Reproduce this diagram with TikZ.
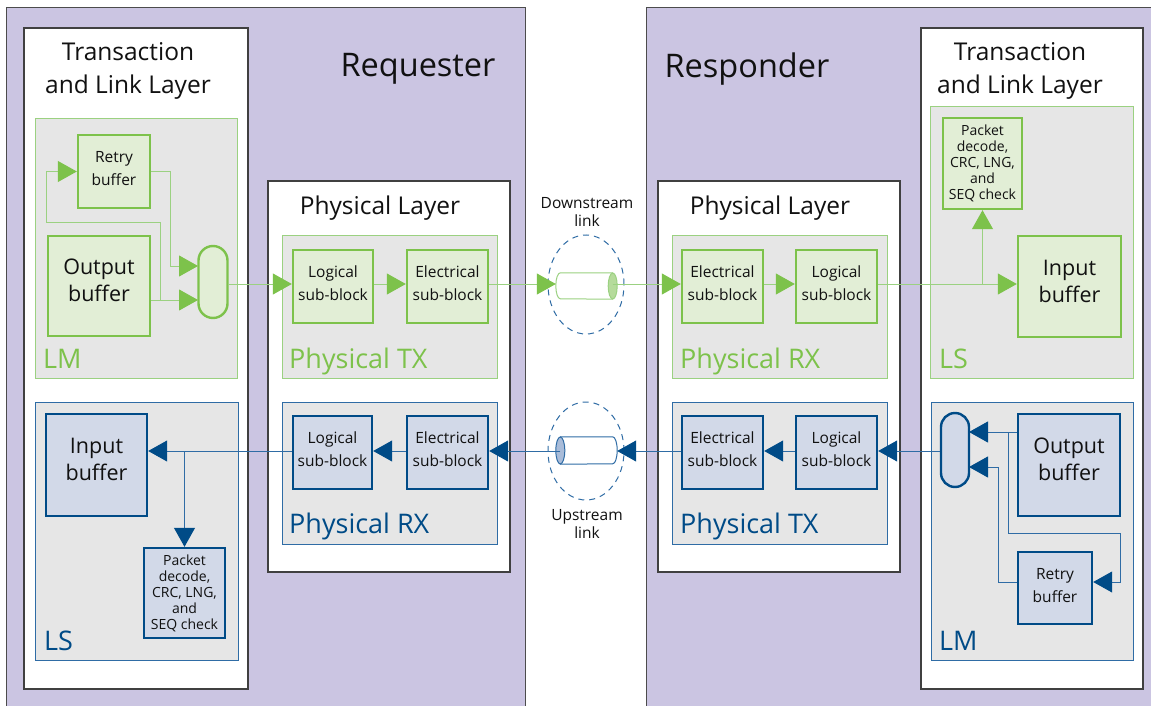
\documentclass[tikz,border=0pt]{standalone}
\usepackage{fontspec}
\setmainfont{Open Sans}
\usetikzlibrary{arrows.meta,shapes.geometric,calc}
\definecolor{purp}{HTML}{CBC5E2}
\definecolor{gfill}{HTML}{E6E6E6}
\definecolor{grn}{HTML}{7DC24B}
\definecolor{grnL}{HTML}{9BD181}
\definecolor{grnF}{HTML}{E2EED6}
\definecolor{grnC}{HTML}{B5DB9B}
\definecolor{blu}{HTML}{004B87}
\definecolor{bluL}{HTML}{2F6CA5}
\definecolor{bluF}{HTML}{D2D9E8}
\definecolor{bluC}{HTML}{A9BCD9}
\definecolor{txt}{HTML}{111111}
\tikzset{
  lay/.style={draw=black!75, line width=1.2pt, fill=white},
  ggrey/.style={draw=grnL, line width=1pt, fill=gfill},
  bgrey/.style={draw=bluL, line width=1pt, fill=gfill},
  gbx/.style={draw=grn, line width=2.4pt, fill=grnF, inner sep=0pt, align=center, text=txt},
  bbx/.style={draw=blu, line width=2.4pt, fill=bluF, inner sep=0pt, align=center, text=txt},
  gl/.style={draw=grnL, line width=1pt, -{Triangle[length=19pt,width=21pt,color=grn]}},
  bl/.style={draw=bluL, line width=1pt, -{Triangle[length=19pt,width=21pt,color=blu]}},
  glp/.style={draw=grnL, line width=1pt},
  blp/.style={draw=bluL, line width=1pt},
  ttl/.style={font=\fontsize{24.5}{33}\selectfont, align=center, text=txt},
  big/.style={font=\fontsize{32.5}{38}\selectfont, text=txt},
  subf/.style={font=\fontsize{15.5}{23}\selectfont},
  bigbf/.style={font=\fontsize{21.5}{27}\selectfont},
  pktf/.style={font=\fontsize{14}{16}\selectfont},
  glab/.style={font=\fontsize{27}{30}\selectfont, text=grn, anchor=base west, inner sep=0pt},
  blab/.style={font=\fontsize{27}{30}\selectfont, text=blu, anchor=base west, inner sep=0pt},
  lnk/.style={font=\fontsize{15.5}{18}\selectfont, align=center, text=txt},
  dsh/.style={draw=bluL, line width=1pt, dash pattern=on 6pt off 5pt, ellipse, inner sep=0pt},
}
\begin{document}
\begin{tikzpicture}[x=1pt,y=-1pt]
\useasboundingbox (0,0) rectangle (1151,706);
\clip (0,0) rectangle (1151,706);
\fill[white] (0,0) rectangle (1151,706);
% outer purple panels
\draw[fill=purp, draw=black!70, line width=1pt] (6,8) rectangle (525,712);
\draw[fill=purp, draw=black!70, line width=1pt] (646,8) rectangle (1160,712);
% white layer boxes
\draw[lay] (24,28) rectangle (248,689);
\draw[lay] (921,28) rectangle (1143,689);
\draw[lay] (268,181) rectangle (510,572);
\draw[lay] (658,181) rectangle (900,572);
% titles
\node[big] (req) at (418,69) {Requester};
\node[big] (res) at (747,69) {Responder};
\node[ttl] (tllT) at (128,71) {Transaction\\and Link Layer};
\node[ttl] (tlrT) at (1020,71) {Transaction\\and Link Layer};
\node[ttl] (phyLT) at (380,208) {Physical Layer};
\node[ttl] (phyRT) at (770,208) {Physical Layer};
% grey sub-panels
\draw[ggrey] (35,119) rectangle (237,378);
\draw[bgrey] (35,402) rectangle (238,660);
\draw[ggrey] (282,235) rectangle (497,378);
\draw[bgrey] (282,402) rectangle (497,544);
\draw[ggrey] (672,235) rectangle (887,378);
\draw[bgrey] (672,402) rectangle (887,544);
\draw[ggrey] (930,107) rectangle (1133,378);
\draw[bgrey] (931,402) rectangle (1133,660);
\node[glab] (lmL) at (43,368) {LM};
\node[blab] (lsL) at (44,650) {LS};
\node[glab] (ptxL) at (289,368) {Physical TX};
\node[blab] (prxL) at (289,533) {Physical RX};
\node[glab] (prxR) at (680,368) {Physical RX};
\node[blab] (ptxR) at (680,533) {Physical TX};
\node[glab] (lsR) at (939,368) {LS};
\node[blab] (lmR) at (939,650) {LM};
% link labels
\node[lnk] (dlab) at (587,212) {Downstream\\link};
\node[lnk] (ulab) at (587,524) {Upstream\\link};
\node[dsh, minimum width=76pt, minimum height=99pt] (ellD) at (586,284.5) {};
\node[dsh, minimum width=76pt, minimum height=98pt] (ellU) at (586,451) {};
% inner blocks, requester
\node[gbx, subf, minimum width=72pt, minimum height=73pt] (retryL) at (114,171.5) {Retry\\buffer\\[-17pt]};
\node[gbx, bigbf, minimum width=102pt, minimum height=100pt] (outL) at (99,286) {Output\\buffer\\[-16pt]};
\node[gbx, rounded corners=14.5pt, minimum width=29pt, minimum height=72pt] (muxL) at (213,282) {};
\node[gbx, subf, minimum width=80pt, minimum height=73pt] (logTXL) at (333,286.5) {Logical\\sub-block\\[-17pt]};
\node[gbx, subf, minimum width=81pt, minimum height=73pt] (eleTXL) at (447.5,286.5) {Electrical\\sub-block\\[-17pt]};
\node[bbx, bigbf, minimum width=101pt, minimum height=102pt] (inL) at (96.5,465) {Input\\buffer\\[-16pt]};
\node[bbx, pktf, minimum width=81pt, minimum height=90pt] (pktL) at (184.5,593) {Packet\\decode,\\CRC, LNG,\\and\\SEQ check};
\node[bbx, subf, minimum width=79pt, minimum height=73pt] (logRXL) at (332.5,452.5) {Logical\\sub-block\\[-17pt]};
\node[bbx, subf, minimum width=81pt, minimum height=73pt] (eleRXL) at (447.5,452.5) {Electrical\\sub-block\\[-17pt]};
% inner blocks, responder
\node[gbx, subf, minimum width=81pt, minimum height=73pt] (eleRXR) at (722.5,286.5) {Electrical\\sub-block\\[-17pt]};
\node[gbx, subf, minimum width=81pt, minimum height=73pt] (logRXR) at (836.5,286.5) {Logical\\sub-block\\[-17pt]};
\node[gbx, bigbf, minimum width=103pt, minimum height=101pt] (inR) at (1069.5,286.5) {Input\\buffer\\[-16pt]};
\node[gbx, pktf, minimum width=79pt, minimum height=91pt] (pktR) at (982.5,163.5) {Packet\\decode,\\CRC, LNG,\\and\\SEQ check};
\node[bbx, subf, minimum width=81pt, minimum height=73pt] (eleTXR) at (722.5,452.5) {Electrical\\sub-block\\[-17pt]};
\node[bbx, subf, minimum width=81pt, minimum height=73pt] (logTXR) at (836.5,452.5) {Logical\\sub-block\\[-17pt]};
\node[bbx, rounded corners=14pt, minimum width=28pt, minimum height=74pt] (muxR) at (955,450) {};
\node[bbx, bigbf, minimum width=102pt, minimum height=102pt] (outR) at (1069,465) {Output\\buffer\\[-16pt]};
\node[bbx, subf, minimum width=74pt, minimum height=72pt] (retryR) at (1055,588) {Retry\\buffer\\[-17pt]};
% cylinders (link bodies)
\node[minimum width=61pt, minimum height=26pt, inner sep=0pt] (cylD) at (586.5,286) {};
\node[minimum width=61pt, minimum height=27pt, inner sep=0pt] (cylU) at (586.5,450.5) {};
\draw[glp, fill=white] ([xshift=-4.5pt]cylD.north east) -- ([xshift=4.5pt]cylD.north west)
  arc[start angle=90, end angle=270, x radius=4.5pt, y radius=13pt] -- ([xshift=-4.5pt]cylD.south east) -- cycle;
\draw[glp, fill=grnC] ([xshift=-4.5pt]cylD.east) ellipse[x radius=4.5pt, y radius=13pt];
\draw[blp, fill=white] ([xshift=4.5pt]cylU.north west) -- ([xshift=-4.5pt]cylU.north east)
  arc[start angle=90, end angle=-90, x radius=4.5pt, y radius=13.5pt] -- ([xshift=4.5pt]cylU.south west) -- cycle;
\draw[blp, fill=bluC] ([xshift=4.5pt]cylU.west) ellipse[x radius=4.5pt, y radius=13.5pt];
% flow levels
\coordinate (dn) at (0,284);
\coordinate (up) at (0,451);
% downstream connectors
\draw[gl] (muxL.east |- dn) -- (logTXL.west |- dn);
\draw[gl] (logTXL.east |- dn) -- (eleTXL.west |- dn);
\draw[gl] (eleTXL.east |- dn) -- (cylD.west |- dn);
\draw[gl] ([xshift=-4.5pt]cylD.east |- dn) -- (eleRXR.west |- dn);
\draw[gl] (eleRXR.east |- dn) -- (logRXR.west |- dn);
\draw[gl] (logRXR.east |- dn) -- (inR.west |- dn);
\draw[gl] (pktR.south |- dn) -- (pktR.south);
% requester LM connectors
\coordinate (lA) at (198,266);
\coordinate (lB) at (198,300);
\coordinate (lBr) at (160,300);
\draw[gl] (outL.east |- lB) -- (lB);
\draw[gl] (lBr) -- (160,222) -- (46,222) |- (retryL.west);
\draw[gl] (retryL.east) -| (170,266) -- (lA);
% upstream connectors
\draw[bl] (muxR.west |- up) -- (logTXR.east |- up);
\draw[bl] (logTXR.west |- up) -- (eleTXR.east |- up);
\draw[bl] (eleTXR.west |- up) -- (cylU.east |- up);
\draw[bl] ([xshift=4.5pt]cylU.west |- up) -- (eleRXL.east |- up);
\draw[bl] (eleRXL.west |- up) -- (logRXL.east |- up);
\draw[bl] (logRXL.west |- up) -- (inL.east |- up);
\draw[bl] (pktL.north |- up) -- (pktL.north);
% responder LM connectors
\coordinate (rA) at (969,432);
\coordinate (rB) at (969,467);
\coordinate (rAr) at (1008,432);
\draw[bl] (outR.west |- rA) -- (rA);
\draw[bl] (rAr) -- (1008,533) -- (1120,533) -- (1120,582) -- (retryR.east |- 0,582);
\draw[bl] (retryR.west |- 0,582) -- (998,582) -- (998,467) -- (rB);
\end{tikzpicture}
\end{document}
